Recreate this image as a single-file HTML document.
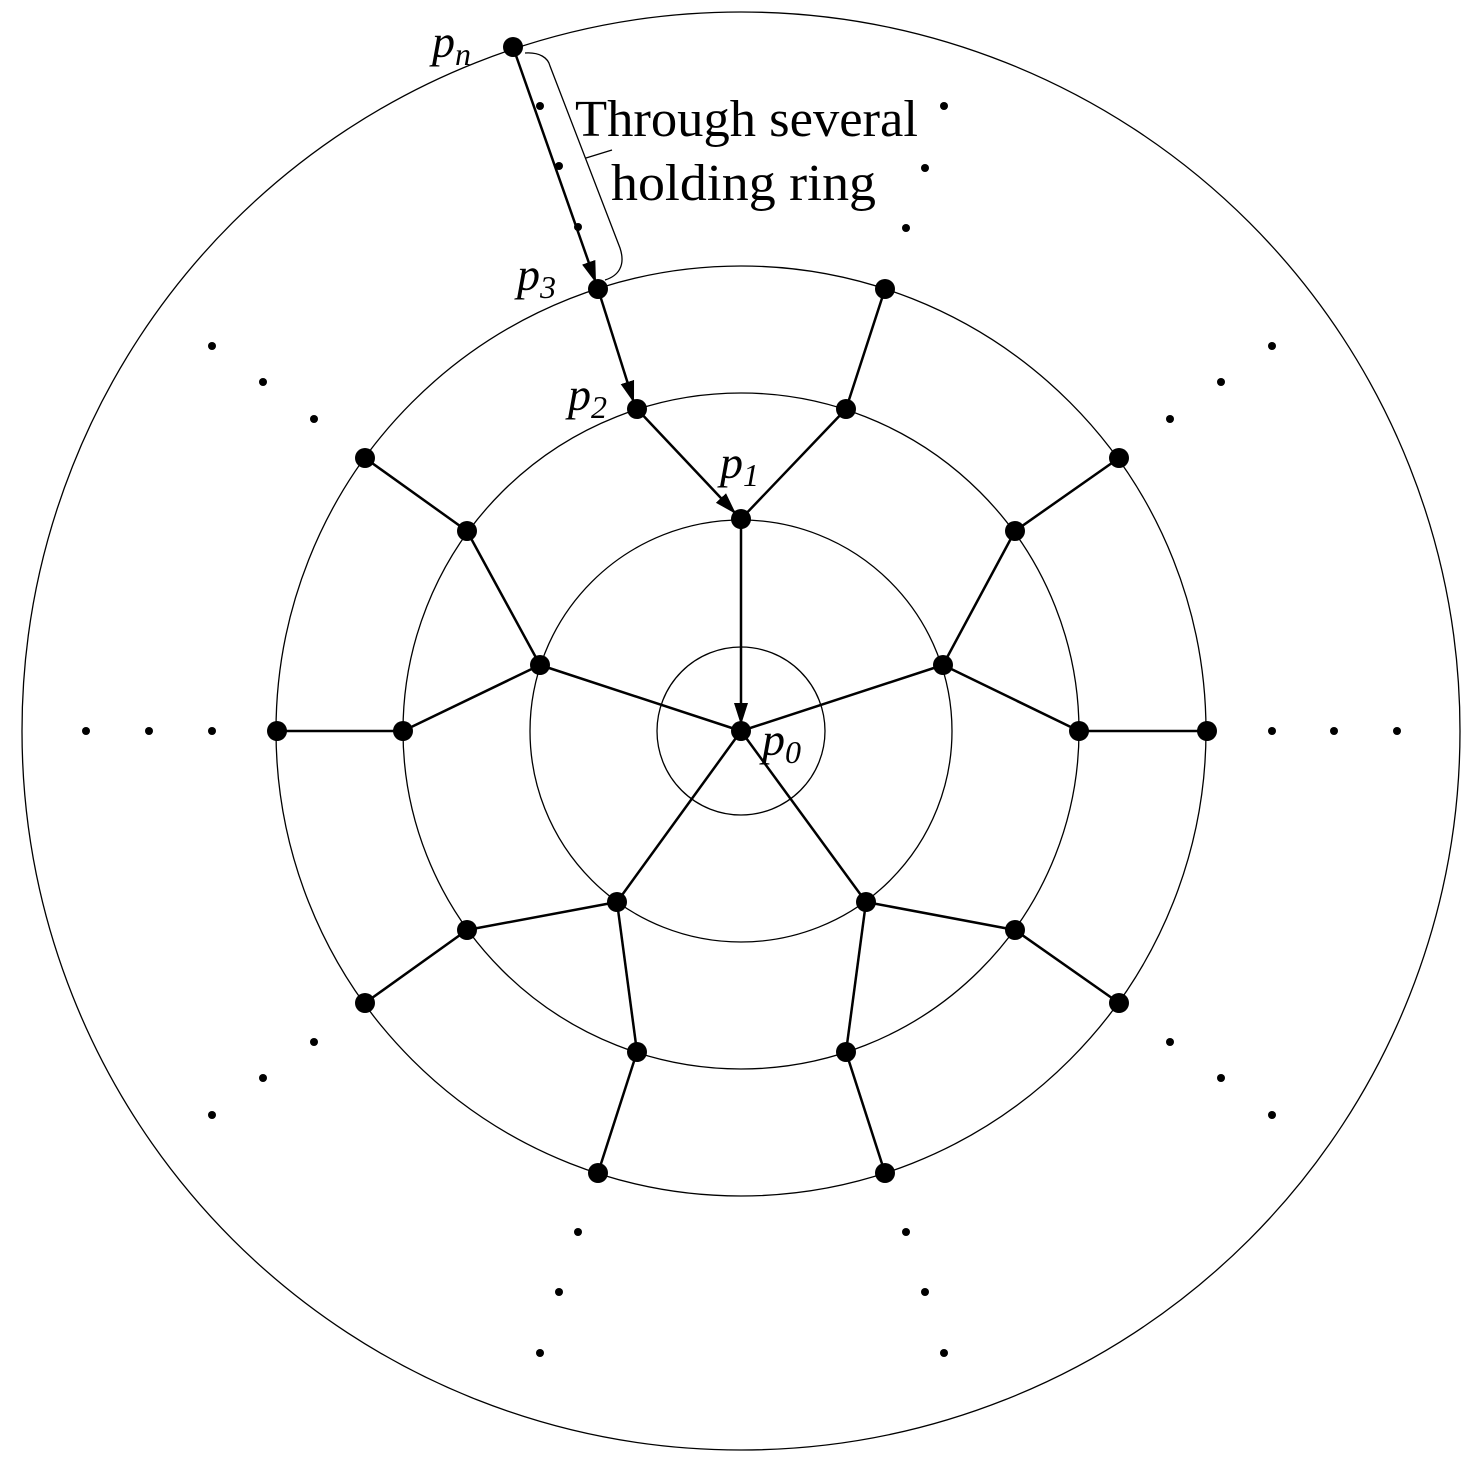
<!DOCTYPE html>
<html><head><meta charset="utf-8"><style>html,body{margin:0;padding:0;background:#fff}</style></head>
<body>
<svg width="1483" height="1475" viewBox="0 0 1483 1475" xmlns="http://www.w3.org/2000/svg">
<defs>
<marker id="ar2" markerWidth="24" markerHeight="16" refX="22" refY="8" orient="auto" markerUnits="userSpaceOnUse">
<path d="M0,1 L22,8 L0,15 Z" fill="#000"/>
</marker>
</defs>
<g fill="none" stroke="#000" stroke-width="1.3">
<circle cx="741" cy="731" r="84"/>
<circle cx="741" cy="731" r="211"/>
<circle cx="741" cy="731" r="338"/>
<circle cx="741" cy="731" r="465"/>
<circle cx="741" cy="731" r="719"/>
</g>
<g stroke="#000" stroke-width="2.5" fill="none">
<line x1="943" y1="665" x2="741" y2="731"/>
<line x1="866" y1="902" x2="741" y2="731"/>
<line x1="617" y1="902" x2="741" y2="731"/>
<line x1="540" y1="665" x2="741" y2="731"/>
<line x1="741" y1="519" x2="846" y2="409"/>
<line x1="943" y1="665" x2="1015" y2="531"/>
<line x1="943" y1="665" x2="1079" y2="731"/>
<line x1="866" y1="902" x2="1015" y2="930"/>
<line x1="866" y1="902" x2="846" y2="1052"/>
<line x1="617" y1="902" x2="637" y2="1052"/>
<line x1="617" y1="902" x2="467" y2="930"/>
<line x1="540" y1="665" x2="403" y2="731"/>
<line x1="540" y1="665" x2="467" y2="531"/>
<line x1="846" y1="409" x2="885" y2="289"/>
<line x1="1015" y1="531" x2="1119" y2="458"/>
<line x1="1079" y1="731" x2="1207" y2="731"/>
<line x1="1015" y1="930" x2="1119" y2="1003"/>
<line x1="846" y1="1052" x2="885" y2="1173"/>
<line x1="637" y1="1052" x2="598" y2="1173"/>
<line x1="467" y1="930" x2="365" y2="1003"/>
<line x1="403" y1="731" x2="277" y2="731"/>
<line x1="467" y1="531" x2="365" y2="458"/>
<line x1="741" y1="519" x2="741" y2="725" marker-end="url(#ar2)"/>
<line x1="637" y1="409" x2="736" y2="514" marker-end="url(#ar2)"/>
<line x1="598" y1="289" x2="634" y2="403" marker-end="url(#ar2)"/>
<line x1="513" y1="47" x2="596" y2="283" marker-end="url(#ar2)"/>
</g>
<path d="M525,53 C540,52 548,58 550,66 L620,248 C626,266 618,276 605,280" fill="none" stroke="#000" stroke-width="1.3"/>
<line x1="586" y1="158" x2="612" y2="150" stroke="#000" stroke-width="1.3"/>
<g fill="#000">
<circle cx="741" cy="731" r="10"/>
<circle cx="741" cy="519" r="10"/><circle cx="943" cy="665" r="10"/><circle cx="866" cy="902" r="10"/><circle cx="617" cy="902" r="10"/><circle cx="540" cy="665" r="10"/>
<circle cx="637" cy="409" r="10"/><circle cx="846" cy="409" r="10"/><circle cx="1015" cy="531" r="10"/><circle cx="1079" cy="731" r="10"/><circle cx="1015" cy="930" r="10"/><circle cx="846" cy="1052" r="10"/><circle cx="637" cy="1052" r="10"/><circle cx="467" cy="930" r="10"/><circle cx="403" cy="731" r="10"/><circle cx="467" cy="531" r="10"/>
<circle cx="598" cy="289" r="10"/><circle cx="885" cy="289" r="10"/><circle cx="1119" cy="458" r="10"/><circle cx="1207" cy="731" r="10"/><circle cx="1119" cy="1003" r="10"/><circle cx="885" cy="1173" r="10"/><circle cx="598" cy="1173" r="10"/><circle cx="365" cy="1003" r="10"/><circle cx="277" cy="731" r="10"/><circle cx="365" cy="458" r="10"/>
<circle cx="513" cy="47" r="10"/>
<g>
<circle cx="540" cy="106" r="4"/><circle cx="559" cy="166" r="4"/><circle cx="578" cy="227" r="4"/>
<circle cx="944" cy="106" r="4"/><circle cx="925" cy="168" r="4"/><circle cx="906" cy="228" r="4"/>
<circle cx="212" cy="346" r="4"/><circle cx="263" cy="382" r="4"/><circle cx="314" cy="419" r="4"/>
<circle cx="1272" cy="346" r="4"/><circle cx="1221" cy="382" r="4"/><circle cx="1170" cy="419" r="4"/>
<circle cx="86" cy="731" r="4"/><circle cx="149" cy="731" r="4"/><circle cx="212" cy="731" r="4"/>
<circle cx="1272" cy="731" r="4"/><circle cx="1334" cy="731" r="4"/><circle cx="1397" cy="731" r="4"/>
<circle cx="314" cy="1042" r="4"/><circle cx="263" cy="1078" r="4"/><circle cx="212" cy="1115" r="4"/>
<circle cx="1170" cy="1042" r="4"/><circle cx="1221" cy="1078" r="4"/><circle cx="1272" cy="1115" r="4"/>
<circle cx="578" cy="1232" r="4"/><circle cx="559" cy="1292" r="4"/><circle cx="540" cy="1353" r="4"/>
<circle cx="906" cy="1232" r="4"/><circle cx="925" cy="1292" r="4"/><circle cx="944" cy="1353" r="4"/>
</g>
</g>
<g font-family="Liberation Serif, serif" fill="#000">
<text x="575" y="136" font-size="52" textLength="343" lengthAdjust="spacingAndGlyphs">Through several</text>
<text x="611" y="200" font-size="52" textLength="265" lengthAdjust="spacingAndGlyphs">holding ring</text>
<g font-style="italic" font-size="46">
<text x="432" y="57">p<tspan font-size="32" dy="8">n</tspan></text>
<text x="517" y="290">p<tspan font-size="32" dy="8">3</tspan></text>
<text x="568" y="410">p<tspan font-size="32" dy="8">2</tspan></text>
<text x="720" y="478">p<tspan font-size="32" dy="8">1</tspan></text>
<text x="762" y="755">p<tspan font-size="32" dy="8">0</tspan></text>
</g>
</g>
</svg>
</body></html>
